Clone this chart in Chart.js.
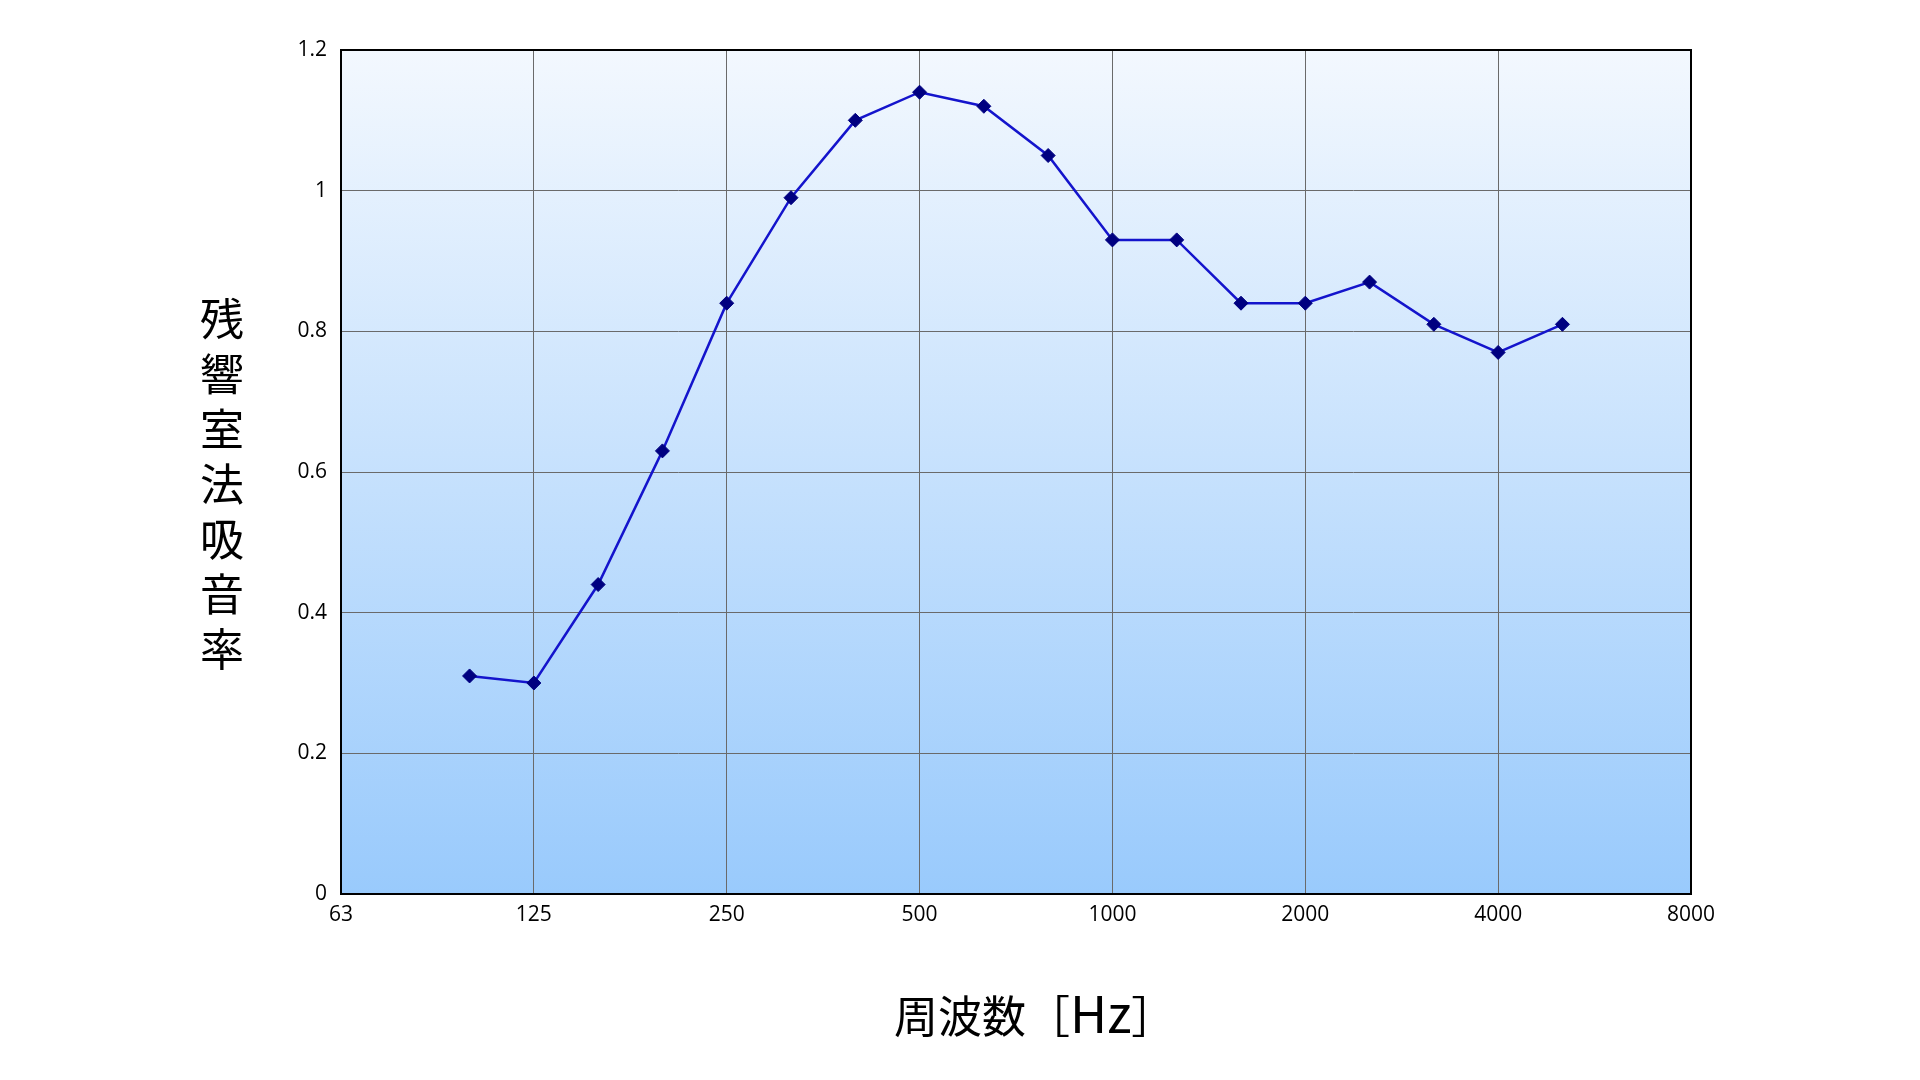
<!DOCTYPE html>
<html lang="ja">
<head>
<meta charset="utf-8">
<title>残響室法吸音率</title>
<script src="https://cdn.jsdelivr.net/npm/chart.js@4/dist/chart.umd.min.js"></script>
<style>
  html, body { margin: 0; padding: 0; background: #fff; }
  #wrap { position: relative; width: 1920px; height: 1080px; }
  #chart { position: absolute; left: 0; top: 0; }
  .title {
    position: absolute;
    font-family: "Noto Sans CJK JP", sans-serif;
    font-size: 44px;
    line-height: 1;
    color: #000;
    white-space: nowrap;
  }
  #yTitle {
    left: 200px;
    top: 297px;
    writing-mode: vertical-rl;
    text-orientation: upright;
    letter-spacing: 11px;
  }
  #xTitle { left: 894px; top: 986px; }
  #xTitle .unit { font-size: 51px; line-height: 1; }
</style>
</head>
<body>
<div id="wrap">
  <canvas id="chart" width="1920" height="1080"></canvas>
  <div id="yTitle" class="title">残響室法吸音率</div>
  <div id="xTitle" class="title">周波数［<span class="unit">Hz</span>］</div>
</div>
<script>
// 1/3 octave band centres (Hz)
const bandLabels = ['63', '80', '100', '125', '160', '200', '250', '315', '400', '500', '630',
  '800', '1000', '1250', '1600', '2000', '2500', '3150', '4000', '5000', '6300', '8000'];

// octave labels shown on the x axis
const octaveTicks = ['63', '125', '250', '500', '1000', '2000', '4000', '8000'];

// absorption coefficient per band (no measurement at 63, 80, 6300, 8000)
const absorption = [null, null, 0.31, 0.30, 0.44, 0.63, 0.84, 0.99, 1.10, 1.14, 1.12,
  1.05, 0.93, 0.93, 0.84, 0.84, 0.87, 0.81, 0.77, 0.81, null, null];

// plot area background + frame
const plotFrame = {
  id: 'plotFrame',
  beforeDraw(chart) {
    const { ctx, chartArea: a } = chart;
    const g = ctx.createLinearGradient(0, a.top, 0, a.bottom);
    g.addColorStop(0, '#f3f8fe');
    g.addColorStop(1, '#99cafc');
    ctx.save();
    ctx.fillStyle = g;
    ctx.fillRect(a.left, a.top, a.right - a.left, a.bottom - a.top);
    ctx.restore();
  },
  afterDatasetsDraw(chart) {
    const { ctx, chartArea: a } = chart;
    ctx.save();
    ctx.strokeStyle = '#000';
    ctx.lineWidth = 2;
    ctx.strokeRect(a.left, a.top, a.right - a.left, a.bottom - a.top);
    ctx.restore();
  }
};

const tickFont = { family: '"Open Sans", sans-serif', size: 21 };

new Chart(document.getElementById('chart'), {
  type: 'line',
  data: {
    labels: bandLabels,
    datasets: [{
      data: absorption,
      borderColor: '#1414cc',
      borderWidth: 2.5,
      pointStyle: 'rectRot',
      pointRadius: 7,
      pointBackgroundColor: '#000080',
      pointBorderColor: '#000080',
      pointBorderWidth: 1,
      tension: 0,
      fill: false
    }]
  },
  options: {
    responsive: false,
    devicePixelRatio: 1,
    animation: false,
    layout: { padding: { top: 50, right: 229, bottom: 0, left: 0 } },
    plugins: {
      legend: { display: false },
      tooltip: { enabled: false }
    },
    scales: {
      x: {
        type: 'category',
        offset: false,
        afterFit: (s) => { s.height = 186; },
        grid: {
          drawTicks: false,
          color: (c) => octaveTicks.includes(bandLabels[c.index]) ? '#6a6a6a' : 'rgba(0,0,0,0)',
          lineWidth: 1
        },
        border: { display: false },
        ticks: {
          autoSkip: false,
          maxRotation: 0,
          padding: 8,
          color: '#000',
          font: tickFont,
          callback: (v) => octaveTicks.includes(bandLabels[v]) ? bandLabels[v] : ''
        }
      },
      y: {
        min: 0,
        max: 1.2,
        afterFit: (s) => { s.width = 341; },
        grid: { drawTicks: false, color: '#6a6a6a', lineWidth: 1 },
        border: { display: false },
        ticks: {
          stepSize: 0.2,
          padding: 14,
          color: '#000',
          font: tickFont,
          callback: (v) => String(Number(v.toFixed(1)))
        }
      }
    }
  },
  plugins: [plotFrame]
});
</script>
</body>
</html>
